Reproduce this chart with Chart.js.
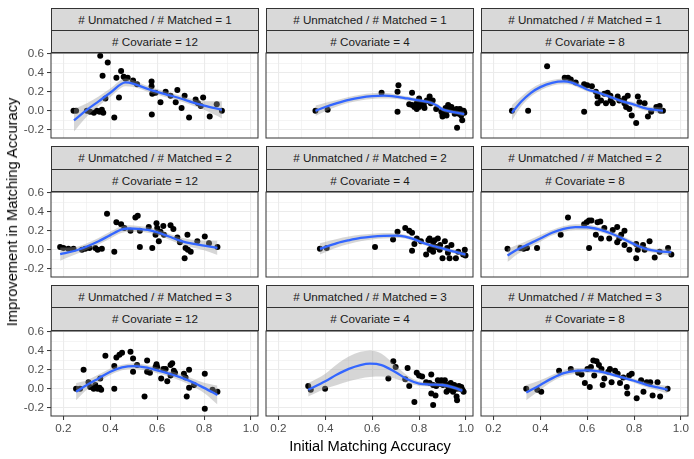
<!DOCTYPE html>
<html>
<head>
<meta charset="utf-8">
<script src="https://cdn.jsdelivr.net/npm/chart.js@4.4.1/dist/chart.umd.min.js"></script>
<style>
body { margin: 0; background: #fff; }
#wrap { position: relative; width: 694px; height: 459px; overflow: hidden; font-family: 'Liberation Sans', Arial, sans-serif; }
canvas { position: absolute; }
.strip { position: absolute; box-sizing: border-box; background: #d9d9d9; border: 1px solid #333; color: #1a1a1a; font-size: 11.7px; text-align: center; white-space: nowrap; }
.title { position: absolute; color: #000; font-size: 14.7px; white-space: nowrap; transform: translate(-50%, -50%); }
</style>
</head>
<body>
<div id="wrap"></div>
<script>
// facets: rows = unmatched/matched ratio, columns = number of covariates
var ratios = [1, 2, 3];
var covariates = [12, 4, 8];

var xMajor = [0.2, 0.4, 0.6, 0.8, 1.0];
var xMinor = [0.3, 0.5, 0.7, 0.9];
var yMajor = [-0.2, 0.0, 0.2, 0.4, 0.6];
var yMinor = [-0.1, 0.1, 0.3, 0.5];

// points [initial accuracy, improvement]
var pts1_12 = [[0.243,0.00],[0.254,0.00],[0.30,0.00],[0.314,-0.01],[0.33,-0.02],[0.343,0.00],[0.354,-0.01],[0.364,0.01],[0.37,-0.02],
  [0.357,0.58],[0.389,0.51],[0.367,0.37],[0.379,0.13],[0.417,-0.07],[0.426,0.35],[0.446,0.42],[0.437,0.14],[0.457,0.36],[0.464,0.34],
  [0.474,0.35],[0.497,0.32],[0.514,0.28],[0.576,0.31],[0.576,0.26],[0.579,0.18],[0.577,-0.04],[0.593,0.19],[0.614,0.09],[0.636,0.20],
  [0.657,0.16],[0.686,0.22],[0.679,0.09],[0.704,0.03],[0.717,0.16],[0.736,-0.07],[0.764,0.12],[0.774,0.08],[0.796,0.14],[0.786,0.05],
  [0.824,-0.06],[0.854,0.07],[0.876,0.00]];
var pts1_4 = [[0.358,0.00],[0.41,0.01],[0.64,0.19],[0.712,0.27],[0.708,0.20],[0.708,-0.01],[0.77,0.19],[0.758,0.07],[0.78,0.04],
  [0.79,0.02],[0.80,0.13],[0.81,0.08],[0.823,0.03],[0.833,0.11],[0.845,0.15],[0.85,0.08],[0.858,0.11],[0.873,0.02],[0.90,-0.06],
  [0.91,-0.03],[0.913,0.03],[0.924,0.06],[0.93,0.01],[0.938,0.04],[0.952,-0.03],[0.96,0.02],[0.962,-0.18],[0.974,0.02],[0.98,-0.05],
  [0.984,-0.10],[0.993,-0.02],[0.99,0.00],[0.80,0.04],[0.895,-0.01],[0.917,-0.05],
  [0.77,0.06],[0.79,0.08],[0.82,0.06],[0.84,0.10],[0.90,-0.04],[0.92,0.00],[0.95,0.00],[0.97,-0.03]];
var pts1_8 = [[0.279,0.00],[0.348,0.00],[0.429,0.47],[0.504,0.35],[0.518,0.35],[0.53,0.33],[0.551,0.30],[0.587,0.28],[0.587,-0.01],
  [0.60,0.27],[0.62,0.26],[0.637,0.20],[0.644,0.15],[0.644,0.08],[0.659,0.11],[0.673,0.18],[0.68,0.08],[0.687,0.19],[0.699,0.16],
  [0.709,0.08],[0.73,0.15],[0.737,0.11],[0.759,0.08],[0.766,0.04],[0.773,0.16],[0.78,0.02],[0.79,-0.05],[0.809,-0.13],[0.816,0.15],
  [0.823,0.09],[0.845,0.08],[0.859,-0.06],[0.873,-0.01],[0.895,0.04],[0.909,0.05],[0.913,0.00],[0.923,0.00],[0.759,0.13],[0.70,0.11]];
var pts2_12 = [[0.186,0.03],[0.20,0.02],[0.221,0.01],[0.243,0.01],[0.279,0.00],[0.293,0.01],[0.311,0.02],[0.336,0.02],[0.346,0.00],
  [0.364,0.01],[0.386,0.38],[0.417,-0.02],[0.426,0.29],[0.446,0.27],[0.46,0.23],[0.486,0.20],[0.507,0.34],[0.517,0.36],[0.526,0.20],
  [0.526,0.03],[0.564,0.24],[0.579,0.02],[0.597,0.28],[0.60,0.23],[0.593,0.16],[0.607,0.09],[0.614,0.19],[0.626,0.25],[0.657,0.26],
  [0.669,0.22],[0.686,0.13],[0.697,0.08],[0.729,0.16],[0.721,0.02],[0.731,0.00],[0.743,-0.02],[0.717,-0.09],[0.771,0.09],[0.803,0.14],
  [0.821,0.07],[0.857,0.03],[0.629,0.16]];
var pts2_4 = [[0.377,0.01],[0.406,0.02],[0.612,0.03],[0.689,0.11],[0.708,0.19],[0.741,0.23],[0.758,0.20],[0.77,0.18],[0.78,0.06],
  [0.77,-0.01],[0.79,0.12],[0.808,0.09],[0.83,-0.05],[0.845,0.12],[0.852,0.02],[0.86,-0.02],[0.866,0.10],[0.88,0.12],[0.888,0.00],
  [0.90,-0.09],[0.91,0.09],[0.923,-0.03],[0.93,-0.09],[0.938,0.05],[0.957,-0.09],[0.967,-0.02],[0.988,-0.05],[0.995,0.00],[0.998,-0.06],
  [0.845,0.00],[0.873,0.03],[0.84,0.10],[0.86,0.08],[0.89,0.05],[0.92,0.02]];
var pts2_8 = [[0.26,0.01],[0.315,0.02],[0.329,0.01],[0.343,0.02],[0.386,0.02],[0.487,0.16],[0.518,0.34],[0.598,0.29],[0.608,0.31],
  [0.618,0.31],[0.608,0.02],[0.637,0.16],[0.644,0.29],[0.656,0.30],[0.659,0.12],[0.673,0.23],[0.694,0.12],[0.709,0.21],[0.728,0.24],
  [0.728,0.08],[0.745,0.16],[0.759,0.20],[0.759,0.05],[0.78,0.00],[0.809,0.06],[0.809,-0.09],[0.816,0.00],[0.838,0.05],[0.845,0.00],
  [0.866,0.09],[0.888,-0.08],[0.909,-0.02],[0.945,0.02],[0.959,-0.05],[0.587,0.27],[0.737,0.12]];
var pts3_12 = [[0.254,0.00],[0.271,0.00],[0.286,0.20],[0.307,0.07],[0.314,0.02],[0.329,0.00],[0.336,0.04],[0.346,0.00],[0.354,0.01],
  [0.361,-0.01],[0.357,0.11],[0.379,0.35],[0.417,0.00],[0.417,0.24],[0.426,0.33],[0.439,0.36],[0.45,0.38],[0.486,0.39],[0.497,0.32],
  [0.497,0.18],[0.514,0.25],[0.546,-0.08],[0.557,0.30],[0.557,0.18],[0.569,0.17],[0.597,0.26],[0.617,0.11],[0.626,0.21],[0.636,0.21],
  [0.643,0.08],[0.657,0.25],[0.664,0.27],[0.671,0.19],[0.676,0.17],[0.657,0.14],[0.714,0.16],[0.721,0.12],[0.736,0.20],[0.736,0.01],
  [0.726,-0.08],[0.757,0.04],[0.803,0.16],[0.803,-0.21],[0.836,-0.01],[0.857,-0.03],[0.593,0.23],[0.60,0.23]];
var pts3_4 = [[0.327,0.03],[0.338,-0.01],[0.399,0.00],[0.669,0.11],[0.69,0.29],[0.70,0.23],[0.751,0.22],[0.758,0.03],[0.741,0.10],
  [0.78,-0.14],[0.79,0.17],[0.80,0.14],[0.813,0.13],[0.83,0.07],[0.845,0.06],[0.852,0.15],[0.852,-0.05],[0.86,-0.17],[0.87,-0.07],
  [0.88,0.09],[0.895,0.09],[0.902,0.04],[0.91,0.09],[0.917,-0.03],[0.925,0.02],[0.935,0.06],[0.945,-0.03],[0.95,0.04],[0.96,-0.08],
  [0.962,-0.12],[0.974,0.00],[0.98,0.02],[0.985,-0.01],[0.96,0.00],[0.873,0.03],[0.93,-0.01],
  [0.86,0.04],[0.89,0.05],[0.92,0.04],[0.94,0.03],[0.97,0.03],[0.99,-0.03]];
var pts3_8 = [[0.34,0.00],[0.387,-0.01],[0.404,-0.03],[0.48,0.19],[0.53,0.21],[0.576,0.15],[0.59,0.06],[0.611,0.02],[0.601,0.21],
  [0.616,0.23],[0.626,0.30],[0.64,0.29],[0.63,0.14],[0.65,0.25],[0.661,0.21],[0.666,0.04],[0.673,0.11],[0.69,0.18],[0.704,0.07],
  [0.719,0.19],[0.73,0.16],[0.74,0.06],[0.754,0.12],[0.769,0.02],[0.771,-0.05],[0.779,0.14],[0.79,0.16],[0.811,-0.10],[0.83,0.09],
  [0.84,-0.03],[0.854,0.07],[0.869,0.07],[0.879,-0.07],[0.90,0.07],[0.911,-0.08],[0.943,0.00],[0.561,0.17],[0.697,0.21]];

// loess fit [x, fit, half band]
var fit1_12 = [[0.245,-0.10,0.12],[0.30,0.01,0.07],[0.35,0.10,0.05],[0.40,0.19,0.045],[0.465,0.30,0.04],[0.50,0.285,0.035],
  [0.55,0.24,0.03],[0.60,0.20,0.03],[0.65,0.165,0.03],[0.70,0.13,0.03],[0.75,0.09,0.035],[0.80,0.055,0.045],[0.876,0.01,0.09]];
var fit1_4 = [[0.358,0.00,0.055],[0.40,0.04,0.045],[0.45,0.08,0.035],[0.50,0.115,0.03],[0.55,0.14,0.03],[0.60,0.155,0.03],
  [0.65,0.16,0.03],[0.70,0.15,0.025],[0.75,0.13,0.02],[0.80,0.11,0.02],[0.85,0.085,0.02],[0.88,0.05,0.02],[0.90,0.015,0.02],
  [0.93,-0.005,0.02],[0.96,-0.02,0.02],[0.993,-0.035,0.025]];
var fit1_8 = [[0.279,-0.02,0.08],[0.32,0.10,0.05],[0.36,0.19,0.04],[0.40,0.25,0.035],[0.45,0.295,0.03],[0.50,0.31,0.03],
  [0.53,0.30,0.025],[0.57,0.26,0.025],[0.60,0.225,0.02],[0.65,0.19,0.02],[0.70,0.145,0.02],[0.75,0.10,0.02],[0.80,0.065,0.025],
  [0.85,0.025,0.025],[0.923,0.00,0.035]];
var fit2_12 = [[0.186,-0.045,0.07],[0.25,-0.01,0.04],[0.30,0.035,0.035],[0.35,0.09,0.035],[0.40,0.155,0.035],[0.45,0.215,0.035],
  [0.48,0.225,0.035],[0.52,0.22,0.03],[0.56,0.21,0.03],[0.60,0.185,0.03],[0.65,0.14,0.03],[0.70,0.095,0.035],[0.75,0.065,0.04],
  [0.80,0.045,0.05],[0.857,0.02,0.075]];
var fit2_4 = [[0.377,0.01,0.06],[0.45,0.07,0.045],[0.50,0.10,0.04],[0.55,0.125,0.035],[0.60,0.14,0.03],[0.65,0.148,0.03],
  [0.70,0.15,0.025],[0.74,0.14,0.02],[0.78,0.11,0.02],[0.82,0.07,0.02],[0.86,0.04,0.02],[0.90,0.015,0.02],[0.95,-0.02,0.02],
  [0.998,-0.05,0.025]];
var fit2_8 = [[0.26,-0.06,0.07],[0.30,0.00,0.05],[0.35,0.06,0.04],[0.40,0.12,0.035],[0.45,0.18,0.03],[0.50,0.22,0.03],
  [0.55,0.24,0.03],[0.60,0.238,0.03],[0.65,0.215,0.025],[0.70,0.175,0.025],[0.75,0.12,0.025],[0.80,0.06,0.025],[0.85,0.01,0.025],
  [0.90,-0.015,0.025],[0.959,-0.025,0.04]];
var fit3_12 = [[0.254,-0.03,0.09],[0.30,0.04,0.05],[0.35,0.11,0.04],[0.40,0.18,0.035],[0.45,0.225,0.03],[0.50,0.24,0.03],
  [0.55,0.225,0.03],[0.60,0.195,0.03],[0.65,0.16,0.03],[0.70,0.12,0.035],[0.75,0.07,0.04],[0.80,0.01,0.055],[0.857,-0.065,0.10]];
var fit3_4 = [[0.327,-0.01,0.07],[0.40,0.08,0.08],[0.45,0.15,0.11],[0.50,0.21,0.13],[0.55,0.25,0.14],[0.59,0.265,0.14],
  [0.64,0.25,0.12],[0.70,0.175,0.07],[0.75,0.10,0.04],[0.80,0.055,0.025],[0.85,0.045,0.02],[0.90,0.04,0.02],[0.945,0.015,0.02],
  [0.985,-0.02,0.025]];
var fit3_8 = [[0.34,-0.04,0.08],[0.40,0.04,0.05],[0.45,0.11,0.035],[0.50,0.165,0.03],[0.55,0.19,0.03],[0.60,0.195,0.025],
  [0.65,0.185,0.025],[0.70,0.155,0.02],[0.75,0.12,0.02],[0.80,0.085,0.02],[0.85,0.045,0.025],[0.90,0.015,0.03],[0.943,-0.01,0.04]];

var panelPts = [[pts1_12, pts1_4, pts1_8], [pts2_12, pts2_4, pts2_8], [pts3_12, pts3_4, pts3_8]];
var panelFit = [[fit1_12, fit1_4, fit1_8], [fit2_12, fit2_4, fit2_8], [fit3_12, fit3_4, fit3_8]];

// layout (px)
var colLeft = [51, 266, 481];
var rowTop = [52.3, 191, 329.7];
var panelW = 208, panelH = 86.3, stripH = 22.4;
var padL = 45, padT = 3, padR = 3, padB = 24;

Chart.defaults.font.family = "'Liberation Sans', Arial, sans-serif";

function isIn(v, arr) {
  return arr.some(function (m) { return Math.abs(m - v) < 1e-6; });
}

// keep chart area fixed: no extra room for overhanging tick labels
function noPad(s) {
  s.paddingTop = 0; s.paddingBottom = 0; s.paddingLeft = 0; s.paddingRight = 0;
}

var panelBorder = {
  id: 'panelBorder',
  afterDatasetsDraw: function (chart) {
    var a = chart.chartArea, ctx = chart.ctx;
    ctx.save();
    ctx.strokeStyle = '#333';
    ctx.lineWidth = 1;
    ctx.strokeRect(a.left, a.top, a.right - a.left, a.bottom - a.top);
    ctx.restore();
  }
};

var wrap = document.getElementById('wrap');

function addDiv(cls, text, css) {
  var d = document.createElement('div');
  d.className = cls;
  d.textContent = text;
  Object.assign(d.style, css);
  wrap.appendChild(d);
  return d;
}

function drawPanel(r, c) {
  var pLeft = colLeft[c], pTop = rowTop[r];
  var showY = c === 0, showX = r === 2;

  var s1 = addDiv('strip', '# Unmatched / # Matched = ' + ratios[r], {
    left: pLeft + 'px', top: (pTop - 2 * stripH) + 'px', width: panelW + 'px',
    height: (stripH + 1) + 'px', lineHeight: (stripH - 1) + 'px'
  });
  addDiv('strip', '# Covariate = ' + covariates[c], {
    left: pLeft + 'px', top: (pTop - stripH) + 'px', width: panelW + 'px',
    height: (stripH + 1) + 'px', lineHeight: (stripH - 1) + 'px'
  });

  var cv = document.createElement('canvas');
  cv.width = padL + panelW + padR;
  cv.height = padT + panelH + padB;
  cv.style.left = (pLeft - padL) + 'px';
  cv.style.top = (pTop - padT) + 'px';
  wrap.insertBefore(cv, s1);

  var pts = panelPts[r][c], fit = panelFit[r][c];

  new Chart(cv, {
    type: 'line',
    data: {
      datasets: [
        {
          data: fit.map(function (f) { return { x: f[0], y: f[1] }; }),
          borderColor: '#3366FF', borderWidth: 2.3, pointRadius: 0,
          cubicInterpolationMode: 'monotone', fill: false, order: 0
        },
        {
          data: fit.map(function (f) { return { x: f[0], y: f[1] + f[2] }; }),
          borderColor: 'rgba(0,0,0,0)', borderWidth: 1, pointRadius: 0,
          cubicInterpolationMode: 'monotone', fill: '+1',
          backgroundColor: 'rgba(153,153,153,0.4)', order: 1
        },
        {
          data: fit.map(function (f) { return { x: f[0], y: f[1] - f[2] }; }),
          borderColor: 'rgba(0,0,0,0)', borderWidth: 1, pointRadius: 0,
          cubicInterpolationMode: 'monotone', fill: false, order: 2
        },
        {
          data: pts.map(function (p) { return { x: p[0], y: p[1] }; }),
          showLine: false, pointRadius: 3, pointBackgroundColor: '#000',
          pointBorderWidth: 0, order: 3
        }
      ]
    },
    options: {
      responsive: false,
      animation: false,
      events: [],
      layout: { padding: { left: 0, top: padT, right: padR, bottom: 0 } },
      plugins: { legend: { display: false }, tooltip: { enabled: false } },
      scales: {
        x: {
          type: 'linear', min: 0.147, max: 1.03,
          afterBuildTicks: function (s) {
            s.ticks = xMinor.concat(xMajor).sort().map(function (v) { return { value: v }; });
          },
          afterFit: function (s) { s.height = padB; noPad(s); },
          border: { display: false },
          grid: {
            color: '#ebebeb',
            lineWidth: function (ctx) { return isIn(ctx.tick.value, xMajor) ? 1.1 : 0.55; },
            drawTicks: showX, tickLength: 4, tickWidth: 1,
            tickColor: function (ctx) { return isIn(ctx.tick.value, xMajor) ? '#333' : 'rgba(0,0,0,0)'; }
          },
          ticks: {
            display: showX, autoSkip: false, maxRotation: 0, padding: 2,
            color: '#4d4d4d', font: { size: 11.7 },
            callback: function (v) { return isIn(v, xMajor) ? v.toFixed(1) : ''; }
          }
        },
        y: {
          type: 'linear', min: -0.287, max: 0.61,
          afterBuildTicks: function (s) {
            s.ticks = yMinor.concat(yMajor).sort(function (a, b) { return a - b; }).map(function (v) { return { value: v }; });
          },
          afterFit: function (s) { s.width = padL; noPad(s); },
          border: { display: false },
          grid: {
            color: '#ebebeb',
            lineWidth: function (ctx) { return isIn(ctx.tick.value, yMajor) ? 1.1 : 0.55; },
            drawTicks: showY, tickLength: 4, tickWidth: 1,
            tickColor: function (ctx) { return isIn(ctx.tick.value, yMajor) ? '#333' : 'rgba(0,0,0,0)'; }
          },
          ticks: {
            display: showY, autoSkip: false, padding: 3,
            color: '#4d4d4d', font: { size: 11.7 },
            callback: function (v) { return isIn(v, yMajor) ? v.toFixed(1) : ''; }
          }
        }
      }
    },
    plugins: [panelBorder]
  });
}

for (var r = 0; r < 3; r++) {
  for (var c = 0; c < 3; c++) {
    drawPanel(r, c);
  }
}

addDiv('title', 'Initial Matching Accuracy', { left: '370px', top: '446px' });
addDiv('title', 'Improvement in Matching Accuracy', { left: '12px', top: '212px', transform: 'translate(-50%, -50%) rotate(-90deg)' });
</script>
</body>
</html>
